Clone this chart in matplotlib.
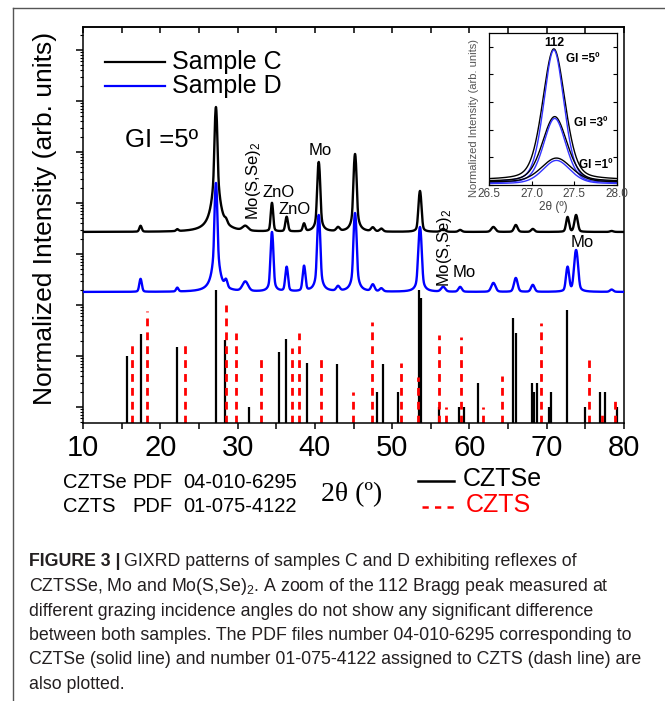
import numpy as np
import matplotlib
matplotlib.use("Agg")
import matplotlib.pyplot as plt
import matplotlib.transforms as mtransforms
from matplotlib.lines import Line2D
from matplotlib.ticker import MultipleLocator, LogLocator, NullFormatter, FormatStrFormatter

W, H = 665, 701

plt.rcParams["font.family"] = ["Liberation Sans", "DejaVu Sans"]
plt.rcParams["mathtext.fontset"] = "custom"
plt.rcParams["mathtext.rm"] = "Liberation Sans"
plt.rcParams["mathtext.it"] = "Liberation Sans:italic"
plt.rcParams["mathtext.bf"] = "Liberation Sans:bold"

# ---- GIXRD patterns (GI = 5 deg): peak list
peak_pos = [17.45, 22.2, 27.2, 28.5, 31.0, 34.45, 36.35, 38.6, 40.5, 43.0, 45.2,
            47.5, 48.6, 53.6, 56.6, 58.8, 63.1, 66.0, 68.2, 72.7, 73.8, 78.4]
peak_fwhm = [0.35, 0.35, 0.25, 0.4, 0.8, 0.3, 0.35, 0.35, 0.3, 0.5, 0.3,
             0.5, 0.5, 0.35, 0.6, 0.5, 0.6, 0.5, 0.5, 0.4, 0.45, 0.5]
amp_C = [840, 250, 759000, 680, 680, 7300, 2600, 1170, 61000, 535, 88600,
         535, 390, 14500, 390, 250, 680, 1000, 390, 2600, 3100, 120]
amp_D = [144, 35, 24500, 90, 102, 2520, 376, 400, 5630, 45, 6180,
         67, 28, 3200, 45, 45, 90, 158, 67, 376, 1017, 20]
base_C = 2700
base_D = 180

# ---- PDF reference sticks (relative intensity, %)
cztse_pos = [15.74, 17.46, 22.12, 27.17, 28.37, 31.52, 35.36, 36.22, 38.94, 42.91,
             48.1, 48.77, 50.8, 53.47, 53.7, 56.1, 58.65, 59.3, 61.06, 65.67,
             65.97, 68.1, 68.3, 68.7, 70.3, 70.5, 72.57, 74.95, 76.9, 77.6, 79.05]
cztse_int = [5.1, 13.7, 7.6, 100, 10.5, 0.5, 6.1, 10.9, 3.7, 3.5,
             1.0, 3.5, 1.0, 100, 70, 0.5, 0.5, 0.5, 1.5, 28,
             14.4, 1.5, 1.0, 1.5, 0.5, 1.0, 40.5, 0.5, 1.0, 1.0, 0.5]
czts_pos = [16.3, 18.24, 23.2, 28.5, 29.75, 33.03, 37.0, 38.0, 40.8, 44.97,
            47.35, 51.14, 53.3, 56.1, 56.96, 58.9, 61.7, 64.25, 69.25, 75.5,
            77.1, 78.8]
czts_int = [10.5, 38.7, 10.5, 50.7, 14.3, 5.6, 7.3, 14.3, 4.6, 1.0,
            23.5, 3.7, 2.0, 13.1, 0.5, 12.0, 0.5, 2.1, 22.5, 4.2,
            0.4, 0.8]
stick_scale = 1.97

# ---- inset: 112 peak at three grazing angles
inset_gi = ["5", "3", "1"]
inset_center = [27.26, 27.27, 27.29]
inset_amp_C = [0.95, 0.47, 0.175]
inset_amp_D = [0.96, 0.47, 0.17]
inset_fwhm_C = [0.31, 0.34, 0.42]
inset_fwhm_D = [0.28, 0.31, 0.38]
inset_bg_C = [0.035, 0.025, 0.02]
inset_bg_D = [0.017, 0.012, 0.008]


def fx(px):
    return px / W


def fy(py):
    return 1 - py / H


def pvoigt(x, c, fwhm, eta=0.25):
    u = (x - c) / fwhm
    return eta / (1 + 4 * u ** 2) + (1 - eta) * np.exp(-4 * np.log(2) * u ** 2)


def pattern(x, base, amps):
    y = np.full_like(x, float(base))
    for c, w, a in zip(peak_pos, peak_fwhm, amps):
        y += a * pvoigt(x, c, w)
    return y


fig = plt.figure(figsize=(W / 100, H / 100), dpi=100)

# page frame lines
fig.add_artist(Line2D([fx(13), 1], [fy(8), fy(8)], color="#555555", lw=1.0))
fig.add_artist(Line2D([fx(13), fx(13)], [fy(8), 0], color="#555555", lw=1.0))

ax = fig.add_axes([fx(83), fy(423), fx(624) - fx(83), fy(27) - fy(423)])
ax.set_yscale("log")
ymin, ymax = 10 ** -0.314, 10 ** 7.45
ax.set_xlim(10, 80)
ax.set_ylim(ymin, ymax)

ax.vlines(cztse_pos, ymin, np.array(cztse_int) * stick_scale, color="black", lw=1.6, zorder=2)
ax.vlines(czts_pos, ymin, np.array(czts_int) * stick_scale, color="#ff0000", lw=2.0,
          linestyles=(0, (2.8, 2.2)), zorder=2)

x = np.linspace(10, 80, 3501)
ax.plot(x, pattern(x, base_C, amp_C), color="black", lw=1.7, zorder=3)
ax.plot(x, pattern(x, base_D, amp_D), color="#0000ff", lw=1.7, zorder=3)

ax.xaxis.set_major_locator(MultipleLocator(10))
ax.xaxis.set_minor_locator(MultipleLocator(5))
ax.yaxis.set_major_locator(LogLocator(base=10, numticks=20))
ax.yaxis.set_minor_locator(LogLocator(base=10, subs=np.arange(2, 10), numticks=20))
ax.yaxis.set_minor_formatter(NullFormatter())
ax.yaxis.set_major_formatter(NullFormatter())
ax.tick_params(axis="x", which="both", direction="out", length=4, width=1.1,
               labelsize=21, pad=4)
ax.tick_params(axis="y", which="major", direction="out", length=5, width=1.1, right=False)
ax.tick_params(axis="y", which="minor", direction="out", length=2.5, width=0.8, right=False)
top = ax.secondary_xaxis("top")
top.xaxis.set_major_locator(MultipleLocator(5))
top.tick_params(direction="in", length=4, width=1.1, labeltop=False)
for sp in list(ax.spines.values()) + list(top.spines.values()):
    sp.set_linewidth(1.1)

# annotations
blend = mtransforms.blended_transform_factory(ax.transData, ax.transAxes)
ax.text(15.4, 0.715, "GI =5º", transform=blend, fontsize=18.5, ha="left", va="center")
ax.text(32.1, 0.513, "Mo(S,Se)$_2$", transform=blend, fontsize=12, rotation=90,
        ha="center", va="bottom")
ax.text(35.3, 0.583, "ZnO", transform=blend, fontsize=12, ha="center", va="center")
ax.text(37.4, 0.538, "ZnO", transform=blend, fontsize=12, ha="center", va="center")
ax.text(40.66, 0.687, "Mo", transform=blend, fontsize=12, ha="center", va="center")
ax.text(56.83, 0.343, "Mo(S,Se)$_2$", transform=blend, fontsize=12, rotation=90,
        ha="center", va="bottom")
ax.text(59.29, 0.379, "Mo", transform=blend, fontsize=12, ha="center", va="center")
ax.text(74.56, 0.457, "Mo", transform=blend, fontsize=12, ha="center", va="center")

# legend (top left)
fig.add_artist(Line2D([fx(105), fx(165)], [fy(62), fy(62)], color="black", lw=1.6))
fig.add_artist(Line2D([fx(105), fx(165)], [fy(86), fy(86)], color="#0000ff", lw=1.6))
fig.text(fx(172), fy(62), "Sample C", fontsize=18, va="center", ha="left")
fig.text(fx(172), fy(86), "Sample D", fontsize=18, va="center", ha="left")

fig.text(fx(45), fy(218), "Normalized Intensity (arb. units)", rotation=90,
         fontsize=19, ha="center", va="center")

# text under the axis
fig.text(fx(63), fy(482), "CZTSe", fontsize=14.5, va="center")
fig.text(fx(132), fy(482), "PDF", fontsize=14.5, va="center")
fig.text(fx(183), fy(482), "04-010-6295", fontsize=14.5, va="center")
fig.text(fx(63), fy(507), "CZTS", fontsize=14.5, va="center")
fig.text(fx(132), fy(507), "PDF", fontsize=14.5, va="center")
fig.text(fx(183), fy(507), "01-075-4122", fontsize=14.5, va="center")
fig.text(fx(352), fy(495), "2θ (º)", family="Liberation Serif", fontsize=20,
         ha="center", va="center")
fig.add_artist(Line2D([fx(418), fx(454)], [fy(481), fy(481)], color="black", lw=1.8))
fig.add_artist(Line2D([fx(422), fx(456)], [fy(507), fy(507)], color="#ff0000", lw=1.8,
                      dashes=(2.5, 2.5)))
fig.text(fx(463), fy(479), "CZTSe", fontsize=18, va="center")
fig.text(fx(466), fy(505), "CZTS", fontsize=18, va="center", color="#ff0000")

# inset
axi = fig.add_axes([fx(489), fy(185), fx(617) - fx(489), fy(33) - fy(185)])
xi = np.linspace(26.5, 28.0, 600)
for k in range(len(inset_gi)):
    yc = inset_bg_C[k] + inset_amp_C[k] * pvoigt(xi, inset_center[k], inset_fwhm_C[k], 0.3)
    yd = inset_bg_D[k] + inset_amp_D[k] * pvoigt(xi, inset_center[k], inset_fwhm_D[k], 0.3)
    axi.plot(xi, yc, color="black", lw=1.0)
    axi.plot(xi, yd, color="#3333ff", lw=1.0)
axi.set_xlim(26.5, 28.0)
axi.set_ylim(0, 1.1)
axi.xaxis.set_major_locator(MultipleLocator(0.5))
axi.xaxis.set_major_formatter(FormatStrFormatter("%.1f"))
axi.yaxis.set_major_locator(MultipleLocator(0.2))
axi.yaxis.set_major_formatter(NullFormatter())
axi.tick_params(axis="both", direction="in", length=3, width=0.8, labelsize=8.5,
                labelcolor="#444444", right=True, pad=2)
axi.set_xlabel("2θ (º)", fontsize=8.5, color="#444444", labelpad=1)
for sp in axi.spines.values():
    sp.set_linewidth(0.9)
fig.text(fx(474), fy(118), "Normalized Intensity (arb. units)", rotation=90,
         fontsize=8, color="#555555", ha="center", va="center")
axi.text(27.26, 1.03, "112", fontsize=9, fontweight="bold", ha="center", va="center")
axi.text(27.40, 0.91, "GI =5º", fontsize=8.5, fontweight="bold", ha="left", va="center")
axi.text(27.50, 0.45, "GI =3º", fontsize=8.5, fontweight="bold", ha="left", va="center")
axi.text(27.55, 0.145, "GI =1º", fontsize=8.5, fontweight="bold", ha="left", va="center")

# caption
cap_color = "#231f20"
cap_fs = 12.8
cap_x = fx(29)
cap_y0 = 562
cap_dy = 24.5
renderer = fig.canvas.get_renderer()
t = fig.text(cap_x, fy(cap_y0), "FIGURE 3 |", fontsize=cap_fs, fontweight="bold",
             color=cap_color, va="center")
bb = t.get_window_extent(renderer)
fig.text((bb.x1 + 4) / W, fy(cap_y0),
         "GIXRD patterns of samples C and D exhibiting reflexes of",
         fontsize=cap_fs, color=cap_color, va="center")
cap_lines = [
    "CZTSSe, Mo and Mo(S,Se)$_2$. A zoom of the 112 Bragg peak measured at",
    "different grazing incidence angles do not show any significant difference",
    "between both samples. The PDF files number 04-010-6295 corresponding to",
    "CZTSe (solid line) and number 01-075-4122 assigned to CZTS (dash line) are",
    "also plotted.",
]
for i, line in enumerate(cap_lines):
    fig.text(cap_x, fy(cap_y0 + (i + 1) * cap_dy), line, fontsize=cap_fs,
             color=cap_color, va="center")

fig.savefig("out.png", dpi=100)
